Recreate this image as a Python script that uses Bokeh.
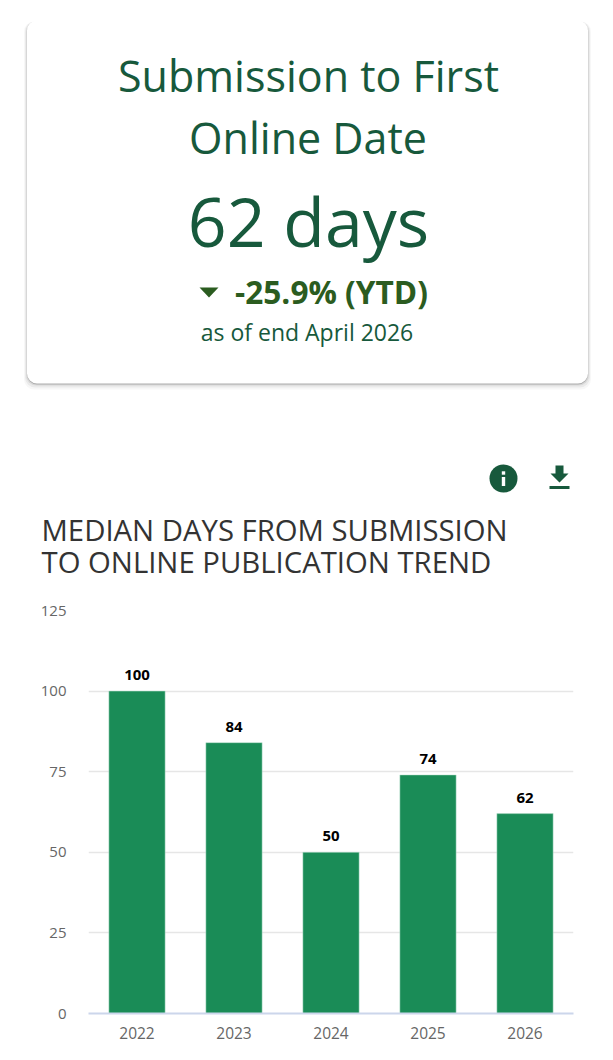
from bokeh.plotting import figure
from bokeh.layouts import column, row
from bokeh.embed import file_html
from bokeh.resources import INLINE
from bokeh.core.properties import value
from bokeh.models import Range1d, FactorRange, FixedTicker

years = ["2022", "2023", "2024", "2025", "2026"]
median_days = [100, 84, 50, 74, 62]
y_ticks = [0, 25, 50, 75, 100, 125]

FONT = "Open Sans"
GREEN = "#17593c"

top = figure(width=613, height=598, output_backend="svg", toolbar_location=None,
             x_range=Range1d(0, 613), y_range=Range1d(598, 0),
             min_border=0, outline_line_color=None, background_fill_color="white", border_fill_color="white")
top.axis.visible = False
top.grid.visible = False

# card with soft shadow
for grow, drop, a in [(3, 3, 0.03), (2, 2, 0.05), (1, 1, 0.08), (0, 1, 0.2)]:
    top.quad(left=26.5 - grow, right=587.5 + grow, top=21 - grow + drop, bottom=384 + grow + drop - 1,
             fill_color="#000000", fill_alpha=a, line_color=None, border_radius=10)
top.quad(left=26.5, right=587.5, top=20, bottom=383, fill_color="white", line_color=None, border_radius=10)


def put(x, y, s, size, color, style="normal", align="center", font=FONT):
    top.text(x=[x], y=[y], text=[s], text_font=value(font), text_font_size=f"{size}px",
             text_color=color, text_align=align, text_baseline="middle", text_font_style=style)


put(308, 75, "Submission to First", 43, GREEN)
put(307.5, 137, "Online Date", 43, GREEN)
put(308, 220, "62 days", 68, GREEN)
put(331, 291, "-25.9% (YTD)", 31.6, "#2b5c20", style="bold")
put(306.5, 331, "as of end April 2026", 23, GREEN)
top.patch(x=[199, 218, 208.5], y=[287, 287, 297], fill_color="#2b5c20", line_color=None)

put(41, 529.5, "MEDIAN DAYS FROM SUBMISSION", 29.3, "#333333", align="left")
put(41, 561.5, "TO ONLINE PUBLICATION TREND", 29.3, "#333333", align="left")

# icons
top.circle(x=[503], y=[478], radius=14, fill_color=GREEN, line_color=None)
top.rect(x=[503], y=[481], width=3.4, height=9, fill_color="white", line_color=None)
top.rect(x=[503], y=[472.5], width=3.4, height=3.4, fill_color="white", line_color=None)
top.patch(x=[555, 563, 563, 568, 559, 550, 555],
          y=[465, 465, 473, 473, 482, 473, 473], fill_color=GREEN, line_color=None)
top.rect(x=[559], y=[487], width=20, height=3, fill_color=GREEN, line_color=None)

chart = figure(width=613, height=458, output_backend="svg", toolbar_location=None,
               x_range=FactorRange(factors=years, range_padding=0), y_range=Range1d(0, 125),
               min_border_left=88, min_border_right=40, min_border_top=12, min_border_bottom=43,
               outline_line_color=None, background_fill_color="white", border_fill_color="white")
chart.vbar(x=years, top=median_days, width=0.58, fill_color="#1a8c57", line_color="#bfe3d2", line_width=0.5)
chart.text(x=years, y=median_days, text=[str(v) for v in median_days], text_font=value(FONT),
           text_font_size="15px", text_font_style="bold", text_color="black", text_align="center",
           text_baseline="bottom", y_offset=-11)

chart.yaxis.ticker = FixedTicker(ticks=y_ticks)
chart.yaxis.axis_line_color = None
chart.yaxis.major_tick_line_color = None
chart.yaxis.minor_tick_line_color = None
chart.yaxis.major_label_text_font = FONT
chart.yaxis.major_label_text_font_size = "15px"
chart.yaxis.major_label_text_color = "#666666"
chart.yaxis.major_label_standoff = 16
chart.xaxis.axis_line_color = "#ccd6eb"
chart.xaxis.axis_line_width = 2
chart.xaxis.major_tick_line_color = None
chart.xaxis.minor_tick_line_color = None
chart.xaxis.major_label_text_font = FONT
chart.xaxis.major_label_text_font_size = "15.5px"
chart.xaxis.major_label_text_color = "#666666"
chart.xaxis.major_label_standoff = 7
chart.xgrid.visible = False
chart.ygrid.grid_line_color = "#e6e6e6"
chart.ygrid.grid_line_width = 1.5

page = column(top, row(chart), spacing=0)
open("out.html", "w").write(file_html(page, INLINE))
